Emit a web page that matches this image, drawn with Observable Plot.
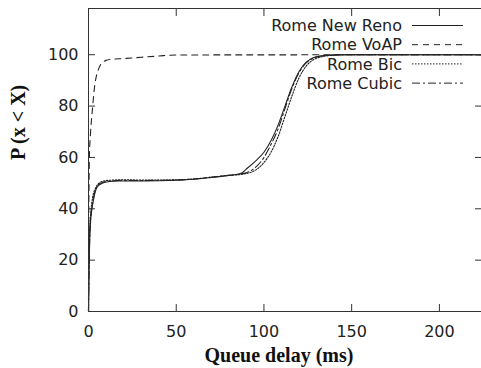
<!DOCTYPE html>
<html>
<head>
<meta charset="utf-8">
<script src="https://cdn.jsdelivr.net/npm/d3@7"></script>
<script src="https://cdn.jsdelivr.net/npm/@observablehq/plot@0.6"></script>
<style>
html,body{margin:0;padding:0;background:#fff;}
#chart svg{display:block;}
</style>
</head>
<body>
<div id="chart"></div>
<script>
const seriesNames = ["Rome New Reno", "Rome VoAP", "Rome Bic", "Rome Cubic"];
const dashes = {"Rome New Reno": null, "Rome VoAP": "6,5", "Rome Bic": "1.5,1.5", "Rome Cubic": "8,3,2,3"};

const renoX = [0, 0.4, 0.8, 1.3, 2, 3, 4, 5, 7, 9, 12, 17, 25, 40, 50, 60, 70, 80, 87, 90, 95, 100, 104, 108, 112, 116, 120, 124, 128, 132, 138, 145, 224];
const renoY = [0, 20, 30, 36, 40, 44, 47, 48.5, 49.6, 50.2, 50.6, 50.8, 50.8, 50.9, 51.1, 51.5, 52.2, 53.0, 53.8, 55.5, 58.5, 62, 66.5, 72.5, 80, 87.5, 93.5, 97, 98.8, 99.5, 99.9, 100, 100];

const voapX = [0, 0.1, 0.3, 0.5, 1.2, 2.4, 3.2, 4, 5.5, 6.8, 8, 10, 13, 20, 30, 40, 50, 224];
const voapY = [0, 30, 50, 60, 70, 80, 86, 90, 94, 96, 97, 97.8, 98.2, 98.5, 99, 99.5, 99.9, 100];

const bicX = [0, 0.3, 0.8, 1.5, 2.5, 4, 6, 10, 20, 30, 40, 50, 60, 70, 80, 88, 95, 100, 104, 108, 112, 116, 120, 124, 128, 133, 140, 150, 224];
const bicY = [0, 22, 33, 40, 45, 48, 50, 51, 51.3, 51.2, 51.2, 51.3, 51.6, 52.3, 53, 53.5, 55, 58, 62, 68, 76, 84, 91, 95.5, 98, 99.2, 99.8, 100, 100];

const cubicX = [0, 0.4, 0.8, 1.3, 2, 3, 4, 5, 7, 9, 12, 17, 25, 40, 50, 60, 70, 80, 88, 95, 100, 104, 108, 112, 116, 120, 124, 128, 133, 145, 224];
const cubicY = [0, 20, 31, 37, 41, 45, 47.5, 49, 50, 50.5, 50.8, 51, 51, 51.1, 51.2, 51.6, 52.3, 53.0, 53.7, 56, 60, 65, 71, 79, 87, 93, 96.8, 98.6, 99.5, 100, 100];

const xTicks = [0, 50, 100, 150, 200];
const yTicks = [0, 20, 40, 60, 80, 100];

function rows(name, xs, ys) { return xs.map((x, i) => ({series: name, x, y: ys[i]})); }
const data = [
  ...rows("Rome New Reno", renoX, renoY),
  ...rows("Rome VoAP", voapX, voapY),
  ...rows("Rome Bic", bicX, bicY),
  ...rows("Rome Cubic", cubicX, cubicY)
];

const axisColor = "#333";
const tickFont = "DejaVu Sans, sans-serif";

function legendMark(index, scales, values, dimensions) {
  const g = d3.create("svg:g");
  const right = dimensions.width - dimensions.marginRight;
  const top = dimensions.marginTop;
  seriesNames.forEach((name, i) => {
    const y = top + 17.5 + i * 19.2;
    g.append("text")
      .attr("x", right - 79).attr("y", y)
      .attr("dy", "0.35em")
      .attr("text-anchor", "end")
      .attr("font-family", tickFont)
      .attr("font-size", 16)
      .attr("fill", "#222")
      .text(name);
    const l = g.append("line")
      .attr("x1", right - 69).attr("x2", right - 18)
      .attr("y1", y).attr("y2", y)
      .attr("stroke", "#222").attr("stroke-width", 1);
    if (dashes[name]) l.attr("stroke-dasharray", dashes[name]);
  });
  return g.node();
}

const lineMarks = seriesNames.map(name => Plot.line(data.filter(d => d.series === name), {
  x: "x", y: "y", stroke: "#222", strokeWidth: 1.1,
  strokeDasharray: dashes[name] || undefined,
  curve: "monotone-x"
}));

const plot = Plot.plot({
  width: 481,
  height: 368,
  marginLeft: 88,
  marginRight: 0,
  marginTop: 8,
  marginBottom: 57,
  style: {fontFamily: tickFont, fontSize: "16px", color: "#222", background: "#fff"},
  x: {domain: [0, 224]},
  y: {domain: [0, 118]},
  marks: [
    ...lineMarks,
    Plot.frame({stroke: axisColor, strokeWidth: 1}),
    // inward ticks
    Plot.axisX(xTicks, {anchor: "bottom", tickSize: 7, tickFormat: () => "", dy: -7, stroke: axisColor, label: null}),
    Plot.axisX(xTicks, {anchor: "top", tickSize: 7, tickFormat: () => "", dy: 7, stroke: axisColor, label: null}),
    Plot.axisY(yTicks, {anchor: "left", tickSize: 7, tickFormat: () => "", dx: 7, stroke: axisColor, label: null}),
    Plot.axisY(yTicks, {anchor: "right", tickSize: 7, tickFormat: () => "", dx: -7, stroke: axisColor, label: null}),
    // labels
    Plot.axisX(xTicks, {anchor: "bottom", tickSize: 0, tickPadding: 14, fontSize: 16, fill: "#222", label: null}),
    Plot.axisY(yTicks, {anchor: "left", tickSize: 0, tickPadding: 10, fontSize: 16, fill: "#222", label: null}),
    Plot.text(["Queue delay (ms)"], {frameAnchor: "bottom", dy: 50, dx: -6, text: d => d, fontFamily: "Liberation Serif, Times New Roman, serif", fontWeight: "bold", fontSize: 20, fill: "#111"}),
    Plot.text(["P (x < X)"], {frameAnchor: "left", dx: -70, text: d => d, rotate: -90, fontFamily: "Liberation Serif, Times New Roman, serif", fontWeight: "bold", fontSize: 20, fill: "#111"}),
    legendMark
  ]
});
document.getElementById("chart").append(plot);
</script>
</body>
</html>
